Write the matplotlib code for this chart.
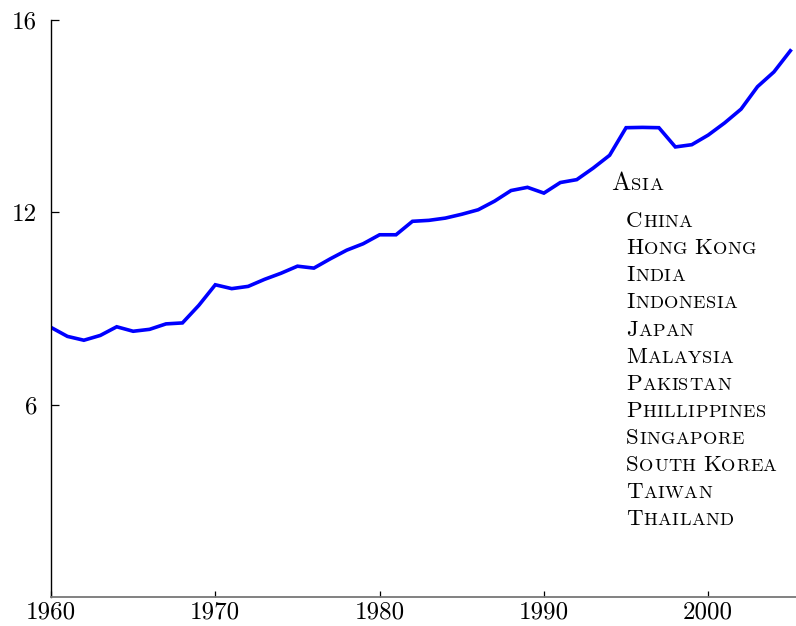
import matplotlib
matplotlib.use("Agg")
import matplotlib.pyplot as plt
import matplotlib.transforms as mtransforms

plt.rcParams['font.family'] = 'serif'
plt.rcParams['font.serif'] = ['cmr10']
plt.rcParams['axes.formatter.use_mathtext'] = True

years = list(range(1960, 2006))
asia = [8.41, 8.13, 8.01, 8.16, 8.43, 8.29, 8.35, 8.52, 8.55, 9.10,
        9.74, 9.62, 9.69, 9.91, 10.10, 10.32, 10.26, 10.55, 10.82, 11.02,
        11.30, 11.30, 11.72, 11.75, 11.82, 11.94, 12.08, 12.35, 12.68, 12.78,
        12.60, 12.93, 13.02, 13.38, 13.78, 14.64, 14.65, 14.64, 14.04, 14.11,
        14.41, 14.79, 15.22, 15.92, 16.38, 17.04]

ytick_pos = [6, 12, 18]
ytick_labels = ['6', '12', '16']
xtick_pos = [1960, 1970, 1980, 1990, 2000]
group_name = 'Asia'
countries = ['China', 'Hong Kong', 'India', 'Indonesia', 'Japan', 'Malaysia',
             'Pakistan', 'Phillippines', 'Singapore', 'South Korea', 'Taiwan',
             'Thailand']

fig = plt.figure(figsize=(7.96, 6.26), dpi=100)
ax = fig.add_axes([51 / 796, 29 / 626, 1 - 51 / 796, (597 - 20) / 626])

ax.plot(years, asia, color='#0000ff', lw=2.6, solid_joinstyle='miter')
ax.set_xlim(1960, 1960 + (796 - 51) / 16.43)
ax.set_ylim(0, 18)

ax.spines['top'].set_visible(False)
ax.spines['right'].set_visible(False)
ax.spines['left'].set_linewidth(1.0)
ax.spines['bottom'].set_color('#777777')
ax.spines['bottom'].set_linewidth(1.3)

ax.set_yticks(ytick_pos)
ax.set_yticklabels(ytick_labels)
ax.set_xticks(xtick_pos)
ax.set_xticklabels([str(x) for x in xtick_pos])
ax.tick_params(axis='y', direction='in', length=5.5, width=0.9, pad=10, labelsize=18)
ax.tick_params(axis='x', direction='in', length=4.5, width=0.9, pad=3, labelsize=18)

renderer = fig.canvas.get_renderer()


def small_caps(x, y, text, big, small, track=0.35):
    # capital letters at full size, the rest upper-cased at a smaller size
    dx = 0.0
    for w, word in enumerate(text.split(' ')):
        if w > 0:
            dx += 0.36 * small
        pieces = [(word[0], big)] + [(ch.upper(), small) for ch in word[1:]]
        for s, size in pieces:
            tr = mtransforms.offset_copy(ax.transData, fig=fig, x=dx, y=0, units='points')
            t = ax.text(x, y, s, fontsize=size, transform=tr, va='baseline', ha='left')
            dx += t.get_window_extent(renderer).width * 72 / fig.dpi + track


small_caps(1994.1, 12.71, group_name, 18.5, 13.4)
for i, c in enumerate(countries):
    small_caps(1995.0, 11.54 - i * 0.846, c, 16.5, 13.2)

fig.savefig('out.png', dpi=100)
